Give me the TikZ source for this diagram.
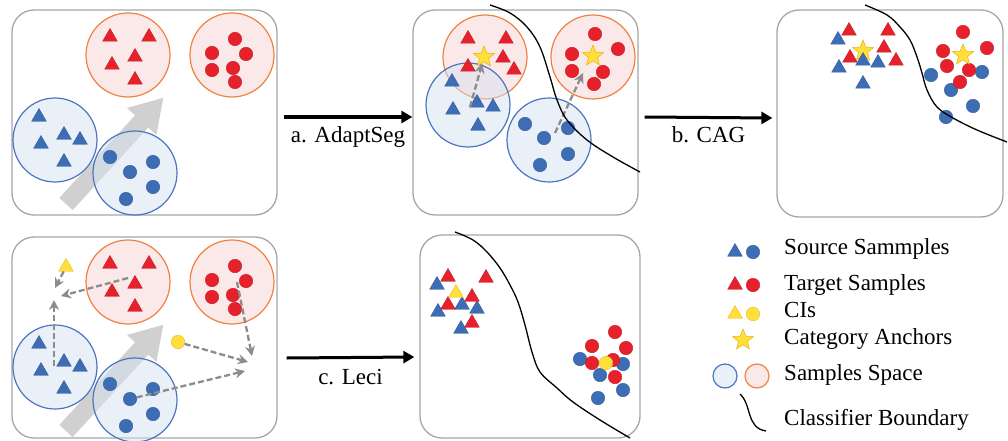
\documentclass[tikz,border=0pt]{standalone}
\usepackage{fontspec}
\setmainfont{Liberation Serif}
\usepackage{xcolor}
\usetikzlibrary{positioning,arrows.meta,shapes.geometric}

\definecolor{boxgray}{HTML}{A6A6A6}
\definecolor{srcblue}{HTML}{3D6DB5}
\definecolor{srcline}{HTML}{4B74C0}
\definecolor{srcfill}{HTML}{D6E2F2}
\definecolor{tgtred}{HTML}{E6212B}
\definecolor{tgtline}{HTML}{EE8140}
\definecolor{tgtfill}{HTML}{F8D2D2}
\definecolor{ciyellow}{HTML}{FFE03A}
\definecolor{ciedge}{HTML}{EEB520}
\definecolor{pullgray}{HTML}{8C8C8C}
\definecolor{arrowgray}{HTML}{C8C8C8}

\begin{document}
\begin{tikzpicture}[x=1pt, y=-1pt,
    every node/.style={font=\fontsize{23}{27}\selectfont},
    panel/.style={draw=boxgray, line width=1.3pt, rounded corners=22pt, inner sep=0pt},
    srcspace/.style={circle, draw=srcline, line width=1.2pt, fill=srcfill, fill opacity=0.5, inner sep=0pt, minimum size=84pt},
    tgtspace/.style={circle, draw=tgtline, line width=1.2pt, fill=tgtfill, fill opacity=0.5, inner sep=0pt, minimum size=84pt},
    mtri/.style={regular polygon, regular polygon sides=3, inner sep=0pt, minimum size=17pt, line width=0.4pt},
    mdot/.style={circle, inner sep=0pt, minimum size=13.5pt, line width=0.4pt},
    srctri/.style={mtri, fill=srcblue, draw=srcblue!85!black},
    tgttri/.style={mtri, fill=tgtred, draw=tgtred!85!black},
    citri/.style={mtri, fill=ciyellow, draw=ciedge},
    srcdot/.style={mdot, fill=srcblue, draw=srcblue!85!black},
    tgtdot/.style={mdot, fill=tgtred, draw=tgtred!85!black},
    cidot/.style={mdot, fill=ciyellow, draw=ciedge},
    anchorstar/.style={star, star points=5, star point ratio=2.3, minimum size=22pt, inner sep=0pt, fill=ciyellow, draw=ciedge, line width=0.6pt},
    flow/.style={-{Triangle[length=11pt,width=12pt]}, line width=3pt},
    pull/.style={-{Stealth[length=10pt,width=10pt]}, draw=pullgray, line width=2.3pt, dash pattern=on 6pt off 3pt},
    boundary/.style={line width=1.3pt},
    bigarrow/.style={fill=arrowgray, fill opacity=0.85},
    lbl/.style={anchor=base, inner sep=0pt, yshift=-25pt},
    legend/.style={anchor=base west, inner sep=0pt},
]
\useasboundingbox (0,0) rectangle (1008,441);

\node[panel, minimum width=265pt, minimum height=205pt] (p1) at (144.5,112.5) {};
\node[panel, minimum width=225pt, minimum height=205pt] (p2) at (525.5,112.5) {};
\node[panel, minimum width=226pt, minimum height=207pt] (p3) at (890,113.5) {};
\node[panel, minimum width=265pt, minimum height=201pt] (p4) at (144.5,337.5) {};
\node[panel, minimum width=220pt, minimum height=203pt] (p5) at (530,336.5) {};

% source and target spaces (a: before adaptation, d: with CIs)
\foreach \s/\dy in {a/0,d/227}{
  \begin{scope}[shift={(0,\dy)}]
    \begin{scope}[shift={(66,204)}, rotate=47.5]
      \fill[bigarrow] (0,-9) -- (112,-9) -- (112,-20) -- (144,0) -- (112,20) -- (112,9) -- (0,9) -- cycle;
    \end{scope}
    \node[tgtspace] (\s-tt) at (128,55) {};
    \node[tgtspace] (\s-td) at (232,55) {};
    \node[srcspace] (\s-st) at (55,140) {};
    \node[srcspace] (\s-sd) at (135,173) {};
    \foreach \x/\y [count=\i] in {110/37,149/37,135/57,112/65,135/80}
      \node[tgttri] (\s-ttri\i) at (\x,\y) {};
    \foreach \x/\y [count=\i] in {235/39,212/53,246/54,212/70,233/68,235/82}
      \node[tgtdot] (\s-tdot\i) at (\x,\y) {};
    \foreach \x/\y [count=\i] in {39/117,41/144,64/135,80/140,64/162}
      \node[srctri] (\s-stri\i) at (\x,\y) {};
    \foreach \x/\y [count=\i] in {110/157,130/172,153/162,153/187,126/199}
      \node[srcdot] (\s-sdot\i) at (\x,\y) {};
  \end{scope}
}

\node[citri] (d-ci1) at (66,267) {};
\node[cidot] (d-ci2) at (178,342) {};
\coordinate (d-from2) at (128,278);
\coordinate (d-from3) at (54,366);
\coordinate (d-from5) at (237,282);
\coordinate (d-to1) at (55,288);
\coordinate (d-to2) at (61,296);
\coordinate (d-to3) at (54,300);
\coordinate (d-to4) at (248,362);
\coordinate (d-to5) at (252,356);
\coordinate (d-to6) at (245,371);
\draw[pull] (d-ci1) -- (d-to1);
\draw[pull] (d-from2) -- (d-to2);
\draw[pull] (d-from3) -- (d-to3);
\draw[pull] (d-ci2) -- (d-to4);
\draw[pull] (d-from5) -- (d-to5);
\draw[pull] (d-sdot2) -- (d-to6);

% AdaptSeg
\node[tgtspace] (b-tt) at (485,57) {};
\node[tgtspace] (b-td) at (593,57) {};
\node[srcspace] (b-st) at (468,105) {};
\node[srcspace] (b-sd) at (549,140) {};
\foreach \x/\y [count=\i] in {468/39,506/39,503/58,468/67,514/70}
  \node[tgttri] (b-ttri\i) at (\x,\y) {};
\foreach \x/\y [count=\i] in {452/82,453/110,477/103,493/107,478/126}
  \node[srctri] (b-stri\i) at (\x,\y) {};
\foreach \x/\y [count=\i] in {595/34,618/49,572/54,572/71,603/72,594/84}
  \node[tgtdot] (b-tdot\i) at (\x,\y) {};
\foreach \x/\y [count=\i] in {525/124,544/138,568/128,568/154,540/165}
  \node[srcdot] (b-sdot\i) at (\x,\y) {};
\node[anchorstar] (b-star1) at (484,57) {};
\node[anchorstar] (b-star2) at (593,56) {};
\coordinate (b-from1) at (470,107);
\coordinate (b-from2) at (555,133);
\coordinate (b-to2) at (583,73);
\draw[pull] (b-from1) -- (b-star1);
\draw[pull] (b-from2) -- (b-to2);
\draw[boundary] plot[smooth, tension=0.6] coordinates {(490,5) (510,13) (527,27) (540,47) (550,77) (557,100) (567,120) (587,140) (613,157) (640,172)};

% CAG
\foreach \x/\y [count=\i] in {849/31,888/31,884/48,850/58,896/61}
  \node[tgttri] (c-ttri\i) at (\x,\y) {};
\node[anchorstar] (c-star1) at (863,51) {};
\foreach \x/\y [count=\i] in {838/40,863/61,878/63,839/68,863/84}
  \node[srctri] (c-stri\i) at (\x,\y) {};
\foreach \x/\y [count=\i] in {931/75,982/72,951/90,973/106,946/117}
  \node[srcdot] (c-sdot\i) at (\x,\y) {};
\foreach \x/\y [count=\i] in {963/32,987/48,943/51,947/66,969/70,960/82}
  \node[tgtdot] (c-tdot\i) at (\x,\y) {};
\node[anchorstar] (c-star2) at (963,55) {};
\draw[boundary] plot[smooth, tension=0.6] coordinates {(865,5) (887,15) (900,27) (910,40) (917,57) (922,73) (927,90) (937,107) (953,118) (977,130) (1007,142)};

% Leci
\foreach \x/\y [count=\i] in {437/285,462/305,477/309,438/312,461/329}
  \node[srctri] (e-stri\i) at (\x,\y) {};
\foreach \x/\y [count=\i] in {448/277,486/278,472/297,448/305,472/323}
  \node[tgttri] (e-ttri\i) at (\x,\y) {};
\node[citri] (e-ci1) at (456,293) {};
\foreach \x/\y [count=\i] in {580/359,623/364,600/375,623/390,598/398}
  \node[srcdot] (e-sdot\i) at (\x,\y) {};
\foreach \x/\y [count=\i] in {615/332,592/346,626/348,592/363,613/360,615/377}
  \node[tgtdot] (e-tdot\i) at (\x,\y) {};
\node[cidot] (e-ci2) at (606,363) {};
\draw[boundary] plot[smooth, tension=0.6] coordinates {(455,232) (473,240) (487,252) (500,268) (510,285) (518,302) (525,325) (532,352) (540,372) (557,388) (573,402) (600,420) (630,438)};

\draw[flow] ([xshift=6pt,yshift=-4.5pt]p1.east) -- node[lbl] {a. AdaptSeg} ([yshift=-4.5pt]p2.west);
\draw[flow] ([xshift=6pt,yshift=-4.5pt]p2.east) -- node[lbl] {b. CAG} ([xshift=-4pt,yshift=-4.5pt]p3.west);
\draw[flow] ([xshift=9pt,yshift=-20.5pt]p4.east) -- node[lbl, yshift=-2pt] {c. Leci} ([xshift=-5pt,yshift=-20.5pt]p5.west);

% legend
\node[srctri] (l-stri) at (735,252) {};
\node[srcdot] (l-sdot) at (753,252) {};
\node[legend] (l-src) at (784,254) {Source Sammples};
\node[tgttri] (l-ttri) at (735,285) {};
\node[tgtdot] (l-tdot) at (753,285) {};
\node[legend] (l-tgt) at (784,290) {Target Samples};
\node[citri] (l-ctri) at (735,314) {};
\node[cidot] (l-cdot) at (753,314) {};
\node[legend] (l-ci) at (784,317) {CIs};
\node[anchorstar] (l-star) at (743,340) {};
\node[legend] (l-anc) at (784,344) {Category Anchors};
\node[srcspace, minimum size=24pt] (l-sspace) at (725,376) {};
\node[tgtspace, minimum size=24pt] (l-tspace) at (757,376) {};
\node[legend] (l-space) at (784,380) {Samples Space};
\coordinate (l-b1) at (740,394);
\coordinate (l-b2) at (766,431);
\draw[boundary] (l-b1) .. controls (752,405) and (746,428) .. (l-b2);
\node[legend] (l-bnd) at (784,425) {Classifier Boundary};
\end{tikzpicture}
\end{document}
